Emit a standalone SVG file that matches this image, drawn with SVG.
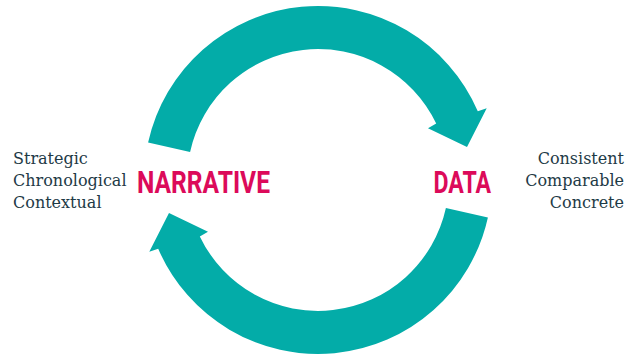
<svg xmlns="http://www.w3.org/2000/svg" xmlns:xlink="http://www.w3.org/1999/xlink" width="637" height="354" viewBox="0 0 637 354">
  <style>
    .arrow { fill: #03aca8; }
    .big { font-family: Roboto, "Liberation Sans", sans-serif; font-weight: 700; font-size: 32px; fill: #dc0a5a; }
    .small { font-family: "DejaVu Serif", "Liberation Serif", serif; font-size: 16px; fill: #1e3a46; }
  </style>
  <defs>
    <path id="cyc" d="M148.1,142.6 A174,174 0 0 1 477.8,111.2 L486.7,108.3 L467,147 L428,128.3 L436.2,123.6 A131,131 0 0 0 190.1,151.9 Z"/>
  </defs>
  <rect width="637" height="354" fill="#ffffff"/>
  <g id="connectors">
    <use xlink:href="#cyc" class="arrow"/>
    <use xlink:href="#cyc" class="arrow" transform="rotate(180 318 180)"/>
  </g>
  <g id="narrative">
    <text class="big" x="137" y="192.7" textLength="133" lengthAdjust="spacingAndGlyphs">NARRATIVE</text>
    <text class="small" x="13" y="164">Strategic</text>
    <text class="small" x="13" y="186">Chronological</text>
    <text class="small" x="13" y="208">Contextual</text>
  </g>
  <g id="data">
    <text class="big" x="433.5" y="192.7" textLength="57.5" lengthAdjust="spacingAndGlyphs">DATA</text>
    <text class="small" x="624" y="164" text-anchor="end">Consistent</text>
    <text class="small" x="624" y="186" text-anchor="end">Comparable</text>
    <text class="small" x="624" y="208" text-anchor="end">Concrete</text>
  </g>
</svg>
